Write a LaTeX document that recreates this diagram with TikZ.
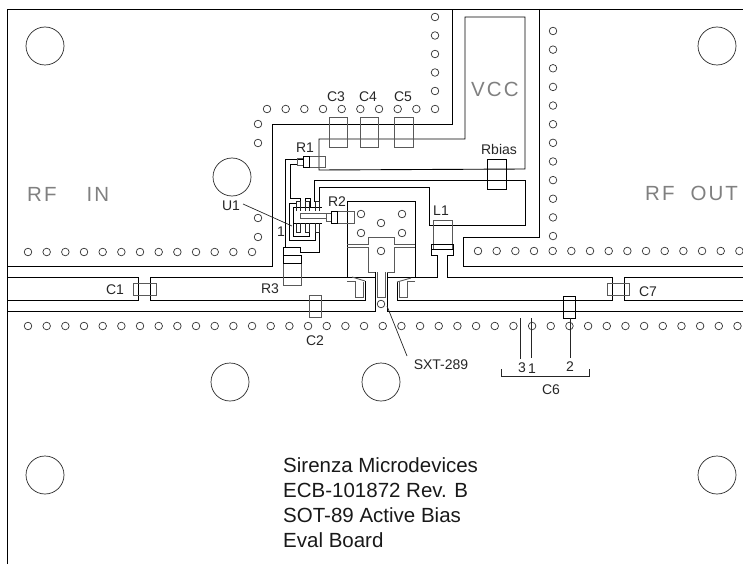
\documentclass[tikz,border=0pt]{standalone}
\usepackage{fontspec}
\setmainfont{Liberation Sans}
\newfontfamily\spacedfont[LetterSpace=10]{Liberation Sans}
\begin{document}
\begin{tikzpicture}[x=1pt,y=-1pt,
  trace/.style={draw=black,line width=0.9pt,line join=miter},
  part/.style={draw=black!65,line width=0.9pt},
  darkpart/.style={draw=black!85,line width=0.9pt},
  hole/.style={draw=black!80,line width=0.7pt,fill=white},
  mount/.style={draw=black!85,line width=0.7pt,fill=white},
  lbl/.style={font=\fontsize{14}{16}\selectfont,text=black!85,inner sep=0pt},
  big/.style={font=\fontsize{20.5}{24}\selectfont,text=black!90,inner sep=0pt,anchor=west},
  silk/.style={font=\spacedfont\fontsize{20.5}{24}\selectfont,text=black!50,inner sep=0pt,anchor=west},
  leader/.style={draw=black!85,line width=0.7pt}]
\useasboundingbox (0,0) rectangle (743,564);
% board edge
\draw[trace] (7,564)--(7,9)--(743,9);
% mounting holes
\foreach \p in {(45,46),(717,46),(232,177),(230,382),(381,382),(45,475),(717,475)}
  \draw[mount] \p circle (19);
% vias
\foreach \i in {0,...,12} \draw[hole] ({28+18.67*\i},252) circle (3.8);
\foreach \i in {0,...,38} \draw[hole] ({28+18.67*\i},326) circle (3.8);
\foreach \i in {0,...,14} \draw[hole] ({478+18.67*\i},251) circle (3.8);
\foreach \i in {0,...,9} \draw[hole] ({267+18.67*\i},109) circle (3.8);
\foreach \i in {0,...,4} \draw[hole] (435,{17+18.5*\i}) circle (3.8);
\foreach \i in {0,...,11} \draw[hole] (553,{31+18.64*\i}) circle (3.8);
\foreach \p in {(258,124),(258,143),(258,218),(258,237),(361,214),(402,214),(381,223),(361,233),(402,233),(381,251),(381,304)}
  \draw[hole] \p circle (3.8);
% traces
\draw[trace] (7,266)--(272,266)--(272,124)--(452,124)--(452,9);
\draw[trace] (539,9)--(539,237)--(463,237)--(463,266)--(743,266);
\draw[trace] (319,139)--(465,139)--(465,17)--(525,17)--(525,169)--(319,170)--cycle;
\draw[trace] (319,202)--(319,187)--(429,187)--(429,225)--(525,225)--(525,180)--(314,180)--(314,202);
% RF strips
\draw[trace] (7,277)--(138,277)--(138,300)--(7,300);
\draw[trace] (150,300)--(150,277)--(375,277);
\draw[trace] (150,300)--(365,300)--(365,281);
\draw[trace] (7,311.5)--(375,311.5)--(375,272);
\draw[trace] (387,272)--(387,311.5)--(743,311.5);
\draw[trace] (397,282)--(397,300)--(612,300)--(612,277)--(447,277)--(447,255);
\draw[trace] (437,255)--(437,277)--(387,277);
\draw[trace] (743,277)--(624,277)--(624,300)--(743,300);
% transistor pad
\draw[trace] (347,277)--(347,201)--(415,201)--(415,277);
\draw[part] (347,244)--(368,244)--(368,237)--(394,237)--(394,244)--(415,244);
\draw[part] (347,247)--(368,247)--(368,272)--(375,272);
\draw[part] (415,247)--(394,247)--(394,272)--(387,272);
\draw[part] (347,281)--(355,281)--(355,297)--(363,297)--(363,282);
\draw[part] (352,277)--(365,281);
\draw[part] (415,281)--(407,281)--(407,297)--(399,297)--(399,282);
\draw[part] (397,282)--(411,278);
\draw[part] (377,272)--(377,297)--(385,297)--(385,272);
% bias nets around U1
\draw[trace] (303,159)--(285,159)--(285,247);
\draw[trace] (297,164)--(290,164)--(290,198)--(300,198)--(300,203);
\draw[trace] (296,203)--(289,203)--(289,240)--(315,240)--(315,231);
\draw[trace] (293,207)--(293,236)--(309,236)--(309,231);
\draw[trace] (305,203)--(305,198)--(310,198)--(310,207);
\draw[trace] (293,207)--(322,207);
\draw[trace] (293,223)--(322,223);
\draw[part] (326,213)--(300,213)--(300,218)--(326,218);
\draw[trace] (283,255)--(283,247)--(300,247)--(300,252)--(319,252)--(319,223);
% U1 pads
\foreach \x in {296,305.5,315}{
  \draw[darkpart] (\x,211)--(\x,201)--(\x+4,201)--(\x+4,211);
  \draw[darkpart] (\x,223)--(\x,232)--(\x+4,232)--(\x+4,223);
}
% R1
\draw[part] (297,158) rectangle (303,165);
\draw[part] (303,156) rectangle (325,167);
\draw[trace] (303,156) rectangle (309,167);
% R2
\draw[part] (326,213) rectangle (331,221);
\draw[part] (331,211) rectangle (354,223);
\draw[trace] (331,211) rectangle (337,223);
% R3
\draw[part] (283,263) rectangle (301,285);
\draw[trace] (283,255) rectangle (301,263);
% C1, C2, C7, C3..C5
\draw[part] (133,283) rectangle (156,295);
\draw[part] (607,283) rectangle (629,295);
\draw[part] (309,295) rectangle (321,317);
\draw[trace] (563,296) rectangle (575,318);
\draw[part] (329,117) rectangle (347,147);
\draw[part] (360,117) rectangle (378,147);
\draw[part] (394,117) rectangle (413,147);
\draw[trace] (487,159) rectangle (506,189);
% L1
\draw[part] (433,220) rectangle (452,249);
\draw[trace] (431,249) rectangle (453,244);
\draw[trace] (431,244)--(431,255)--(437,255);
\draw[trace] (453,244)--(453,255)--(447,255);
% labels
\node[lbl] (tC3) at (336,97) {C3};
\node[lbl] (tC4) at (368,97) {C4};
\node[lbl] (tC5) at (403,97) {C5};
\node[lbl] (tR1) at (305,148) {R1};
\node[lbl] (tR2) at (337,202) {R2};
\node[lbl] (tU1) at (231,206) {U1};
\node[lbl] (tPin) at (281,232) {1};
\node[lbl] (tL1) at (441,211) {L1};
\node[lbl] (tRb) at (499,149) {Rbias};
\node[lbl] (tC1) at (115,290) {C1};
\node[lbl] (tR3) at (270,289) {R3};
\node[lbl] (tC2) at (315,341) {C2};
\node[lbl] (tC7) at (648,292) {C7};
\node[lbl] (tS) at (441,365) {SXT-289};
\node[lbl] (t3) at (522,368) {3};
\node[lbl] (t1) at (532,369) {1};
\node[lbl] (t2) at (570,367) {2};
\node[lbl] (tC6) at (551,390) {C6};
\node[silk] (tVCC) at (471,89) {VCC};
\node[silk] (tIN) at (27,194) {RF\hspace{30pt}IN};
\node[silk] (tOUT) at (645,193) {RF\hspace{16pt}OUT};
\node[big] (m1) at (283,465) {Sirenza Microdevices};
\node[big] (m2) at (283,490) {ECB-101872 Rev. B};
\node[big] (m3) at (283,515) {SOT-89 Active Bias};
\node[big] (m4) at (283,540) {Eval Board};
% leaders
\coordinate (u1a) at (243,204); \coordinate (u1b) at (292,226);
\draw[leader] (u1a)--(u1b);
\coordinate (sa) at (387,306); \coordinate (sb) at (407,356);
\draw[leader] (sa)--(sb);
\coordinate (c3a) at (520,318); \coordinate (c3b) at (520,359);
\coordinate (c1a) at (531,318); \coordinate (c1b) at (531,358);
\coordinate (c2a) at (570,318); \coordinate (c2b) at (570,358);
\draw[leader] (c3a)--(c3b); \draw[leader] (c1a)--(c1b); \draw[leader] (c2a)--(c2b);
\coordinate (b1) at (501,369); \coordinate (b2) at (501,376); \coordinate (b3) at (589,376); \coordinate (b4) at (589,369);
\draw[leader] (b1)--(b2)--(b3)--(b4);
\end{tikzpicture}
\end{document}
